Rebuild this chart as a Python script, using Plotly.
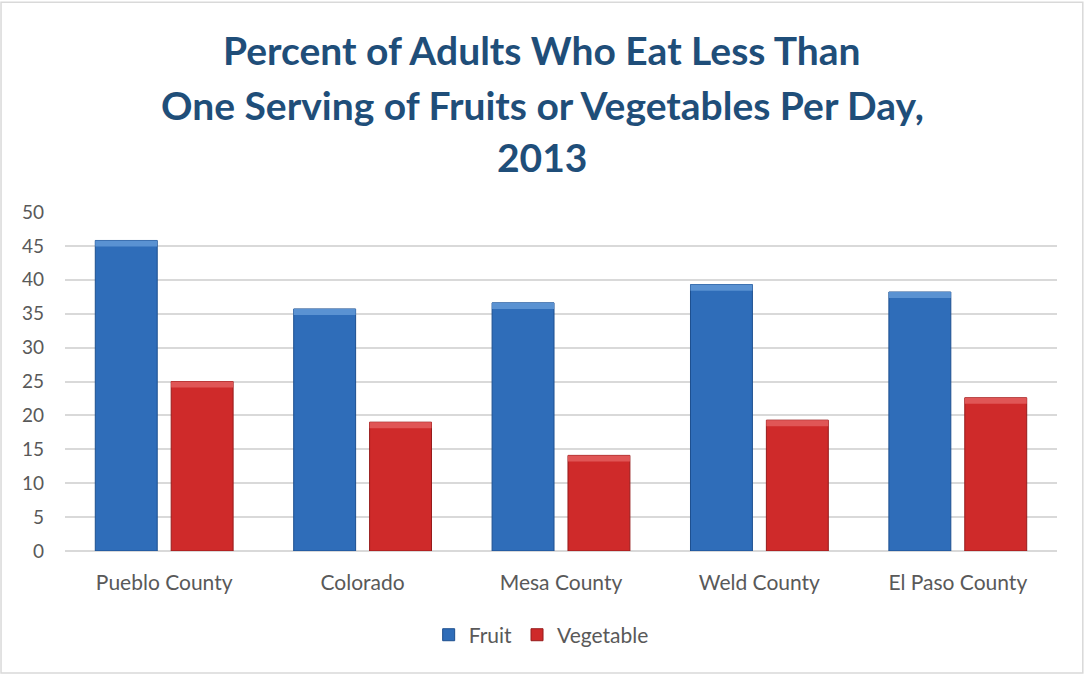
import plotly.graph_objects as go

# Survey results, 2013
counties = ["Pueblo County", "Colorado", "Mesa County", "Weld County", "El Paso County"]
fruit = [45.8, 35.7, 36.6, 39.3, 38.2]
vegetable = [25.0, 19.0, 14.1, 19.3, 22.6]
y_ticks = [0, 5, 10, 15, 20, 25, 30, 35, 40, 45, 50]

title_lines = [
    "Percent of Adults Who Eat Less Than",
    "One Serving of Fruits or Vegetables Per Day,",
    "2013",
]

BLUE = "#2F6DB9"
BLUE_EDGE = "#1D4F8F"
BLUE_CAP = "#5A92D2"
RED = "#CF2A2A"
RED_EDGE = "#961B1B"
RED_CAP = "#E05656"
GRID = "#D9D9D9"
TEXT = "#595959"
TITLE = "#1F4E79"
FONT = "Lato"
CAP = 0.9  # height of the bevel highlight on top of each bar, in axis units

fig = go.Figure()
fig.add_trace(go.Bar(
    name="Fruit", x=counties, y=fruit, offsetgroup="fruit",
    marker=dict(color=BLUE, line=dict(color=BLUE_EDGE, width=1)),
))
fig.add_trace(go.Bar(
    name="Vegetable", x=counties, y=vegetable, offsetgroup="veg",
    marker=dict(color=RED, line=dict(color=RED_EDGE, width=1)),
))
# Lighter bevel strip along the top of each bar
fig.add_trace(go.Bar(
    x=counties, y=[CAP] * len(fruit), base=[v - CAP for v in fruit], offsetgroup="fruit",
    marker=dict(color=BLUE_CAP, line=dict(width=0)),
    showlegend=False, hoverinfo="skip",
))
fig.add_trace(go.Bar(
    x=counties, y=[CAP] * len(vegetable), base=[v - CAP for v in vegetable], offsetgroup="veg",
    marker=dict(color=RED_CAP, line=dict(width=0)),
    showlegend=False, hoverinfo="skip",
))

# Title, one annotation per line so the line spacing can be set freely
title_y = [1.478, 1.316, 1.162]
for text, yy in zip(title_lines, title_y):
    fig.add_annotation(
        text=f"<b>{text}</b>", x=0.481, y=yy, xref="paper", yref="paper",
        xanchor="center", yanchor="middle", showarrow=False,
        font=dict(family=FONT, size=39, color=TITLE),
    )

# Light outer frame around the chart
fig.add_shape(
    type="rect", xref="paper", yref="paper",
    x0=-0.0645, x1=1.026, y0=-0.36, y1=1.619,
    line=dict(color=GRID, width=1.5), fillcolor="rgba(0,0,0,0)", layer="below",
)

fig.update_layout(
    width=1085, height=675,
    margin=dict(l=65, r=28, t=212, b=124),
    paper_bgcolor="white", plot_bgcolor="white",
    barmode="group", bargap=0.235, bargroupgap=0.184,
    font=dict(family=FONT, color=TEXT),
    showlegend=True,
    legend=dict(
        orientation="h", x=0.48, xanchor="center", y=-0.248, yanchor="middle",
        font=dict(family=FONT, size=21, color=TEXT),
        itemwidth=30, traceorder="normal",
    ),
    xaxis=dict(
        showgrid=False, showline=False, ticks="",
        tickfont=dict(family=FONT, size=21, color=TEXT),
        ticklabelstandoff=17,
    ),
    yaxis=dict(
        range=[0, 50], tickvals=y_ticks, showgrid=True, gridcolor=GRID, gridwidth=1.5,
        zeroline=True, zerolinecolor=GRID, zerolinewidth=1.5,
        showline=False, ticks="",
        tickfont=dict(family=FONT, size=19, color=TEXT),
        ticklabelstandoff=20,
    ),
)

fig.write_html("out.html")
